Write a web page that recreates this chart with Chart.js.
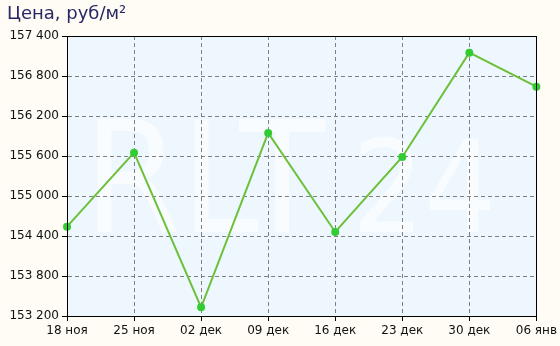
<!DOCTYPE html>
<html>
<head>
<meta charset="utf-8">
<script src="https://cdn.jsdelivr.net/npm/chart.js@4.4.1/dist/chart.umd.min.js"></script>
<style>
  html, body { margin: 0; padding: 0; background: #fffcf5; }
  #wrap { width: 560px; height: 346px; }
</style>
</head>
<body>
<div id="wrap"><canvas id="c" width="560" height="346"></canvas></div>
<script>
const dates = ['18 ноя', '25 ноя', '02 дек', '09 дек', '16 дек', '23 дек', '30 дек', '06 янв'];
const prices = [154540, 155650, 153330, 155945, 154460, 155585, 157150, 156640];
const titleText = 'Цена, руб/м²';

const fmt = (v) => String(v).replace(/\B(?=(\d{3})+(?!\d))/g, ' ');

function stretchText(ctx, txt, x, y, size, sx) {
  ctx.save();
  ctx.translate(x, y);
  ctx.scale(sx, 1);
  ctx.font = size + 'px "DejaVu Sans"';
  ctx.fillText(txt, 0, 0);
  ctx.restore();
}

// plot background, watermark under the grid, frame and title
const decor = {
  id: 'decor',
  beforeDraw(chart) {
    const { ctx, chartArea: a } = chart;
    ctx.save();
    ctx.fillStyle = '#edf7fd';
    ctx.fillRect(a.left, a.top, a.right - a.left, a.bottom - a.top);
    ctx.fillStyle = 'rgba(255,255,255,0.65)';
    ctx.textBaseline = 'alphabetic';
    stretchText(ctx, 'RLT', 84, 232, 155, 0.9);
    stretchText(ctx, '24', 352, 232, 129, 0.88);
    ctx.fillStyle = '#272766';
    ctx.font = '18px "DejaVu Sans"';
    ctx.textBaseline = 'middle';
    ctx.fillText(titleText, 7, 14);
    ctx.restore();
  },
  afterDraw(chart) {
    const { ctx, chartArea: a } = chart;
    ctx.save();
    ctx.strokeStyle = '#000';
    ctx.lineWidth = 1;
    ctx.strokeRect(Math.round(a.left) + 0.5, Math.round(a.top) + 0.5,
      Math.round(a.right - a.left), Math.round(a.bottom - a.top));
    ctx.restore();
  }
};

new Chart(document.getElementById('c'), {
  type: 'line',
  data: {
    labels: dates,
    datasets: [{
      data: prices,
      borderColor: '#6cc03a',
      borderWidth: 2,
      pointBackgroundColor: '#33cc33',
      pointBorderColor: '#33cc33',
      pointRadius: 3,
      tension: 0
    }]
  },
  options: {
    responsive: false,
    animation: false,
    layout: { padding: { top: 36, right: 23, left: 0, bottom: 0 } },
    plugins: { legend: { display: false }, tooltip: { enabled: false } },
    scales: {
      x: {
        offset: false,
        afterFit: (s) => { s.height = 30; },
        grid: { color: '#808080', tickColor: '#000', tickLength: 5, tickBorderDash: [] },
        border: { color: '#000', dash: [4, 3] },
        ticks: { color: '#111', font: { family: 'DejaVu Sans', size: 12 }, maxRotation: 0, autoSkip: false, padding: 3 }
      },
      y: {
        min: 153200,
        max: 157400,
        afterFit: (s) => { s.width = 67; },
        grid: { color: '#808080', tickColor: '#000', tickLength: 5, tickBorderDash: [] },
        border: { color: '#000', dash: [4, 3] },
        ticks: { stepSize: 600, color: '#111', font: { family: 'DejaVu Sans', size: 12 }, padding: 3, callback: (v) => fmt(v) }
      }
    }
  },
  plugins: [decor]
});
</script>
</body>
</html>
